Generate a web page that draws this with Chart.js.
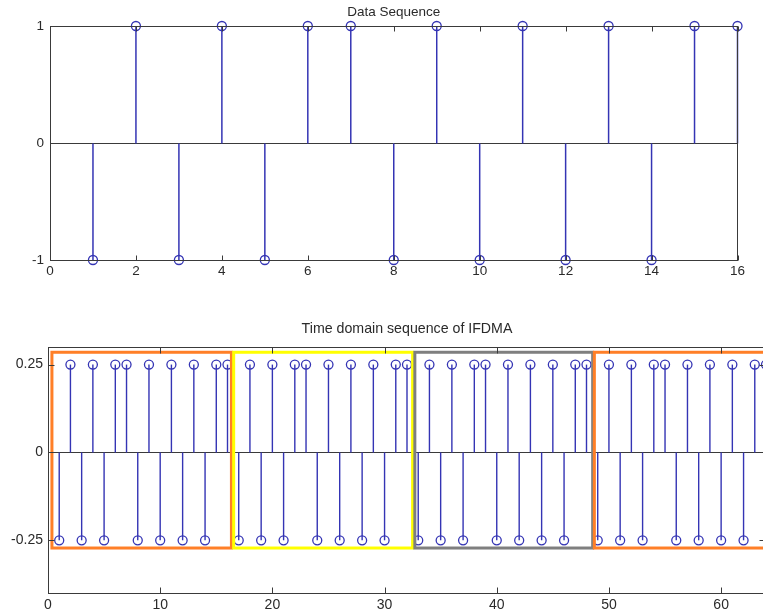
<!DOCTYPE html>
<html><head><meta charset="utf-8">
<script src="https://cdn.jsdelivr.net/npm/chart.js@4/dist/chart.umd.min.js"></script>
<style>
html,body{margin:0;padding:0;background:#fff;overflow:hidden;width:763px;height:616px;}
#c1{position:absolute;left:0;top:0;width:763px;height:300px;}
#c2{position:absolute;left:0;top:300px;width:766px;height:316px;}
</style></head><body>
<canvas id="c1" width="763" height="300"></canvas>
<canvas id="c2" width="766" height="316"></canvas>
<script>
// ---- Data Sequence (top) ----
const seqIndex  = [1,2,3,4,5,6,7,8,9,10,11,12,13,14,15,16];
const seqValues = [-1,1,-1,1,-1,1,1,-1,1,-1,1,-1,1,-1,1,1];
const seqXTicks = [0,2,4,6,8,10,12,14,16];
const seqYTicks = [-1,0,1];

// ---- Time domain sequence of IFDMA (bottom) ----
const ifdmaIndex = [1,2,3,4,5,6,7,8,9,10,11,12,13,14,15,16,
  17,18,19,20,21,22,23,24,25,26,27,28,29,30,31,32,
  33,34,35,36,37,38,39,40,41,42,43,44,45,46,47,48,
  49,50,51,52,53,54,55,56,57,58,59,60,61,62,63,64];
const ifdmaValues = [
  -0.25,0.25,-0.25,0.25,-0.25,0.25,0.25,-0.25,0.25,-0.25,0.25,-0.25,0.25,-0.25,0.25,0.25,
  -0.25,0.25,-0.25,0.25,-0.25,0.25,0.25,-0.25,0.25,-0.25,0.25,-0.25,0.25,-0.25,0.25,0.25,
  -0.25,0.25,-0.25,0.25,-0.25,0.25,0.25,-0.25,0.25,-0.25,0.25,-0.25,0.25,-0.25,0.25,0.25,
  -0.25,0.25,-0.25,0.25,-0.25,0.25,0.25,-0.25,0.25,-0.25,0.25,-0.25,0.25,-0.25,0.25,0.25];
const ifdmaXTicks = [0,10,20,30,40,50,60];
const ifdmaYTicks = [-0.25,0,0.25];

// highlight boxes (data units)
const boxStart  = [0.35, 16.55, 32.7, 48.7];
const boxEnd    = [16.35, 32.5, 48.55, 66];
const boxTop    = [0.285, 0.285, 0.285, 0.285];
const boxBottom = [-0.272, -0.272, -0.272, -0.272];
const boxColors = ['#ff7f27', '#ffff00', '#7f7f7f', '#ff7f27'];

const STEM = '#3434b4';
const FRAME = '#3a3a3a';
const TEXT = '#2a2a2a';
const FAM = '"Liberation Sans", Arial, sans-serif';

const matlabAxes = {
  id: 'matlabAxes',
  beforeDatasetsDraw(chart, args, opts) {
    const ctx = chart.ctx, ca = chart.chartArea;
    const ys = chart.scales.y;
    const y0 = Math.round(ys.getPixelForValue(0)) + 0.5;
    ctx.save();
    ctx.strokeStyle = FRAME; ctx.lineWidth = 1;
    ctx.beginPath(); ctx.moveTo(ca.left, y0); ctx.lineTo(ca.right, y0); ctx.stroke();
    ctx.strokeStyle = STEM; ctx.lineWidth = opts.stemWidth;
    chart.getDatasetMeta(0).data.forEach(pt => {
      ctx.beginPath(); ctx.moveTo(pt.x, y0); ctx.lineTo(pt.x, pt.y); ctx.stroke();
    });
    ctx.restore();
  },
  afterDatasetsDraw(chart, args, opts) {
    const ctx = chart.ctx, ca = chart.chartArea;
    const xs = chart.scales.x, ys = chart.scales.y;
    ctx.save();
    if (opts.boxes) {
      ctx.lineWidth = 3;
      for (let i = 0; i < boxStart.length; i++) {
        const l = xs.getPixelForValue(boxStart[i]);
        const r = xs.getPixelForValue(boxEnd[i]);
        const t = ys.getPixelForValue(boxTop[i]);
        const b = ys.getPixelForValue(boxBottom[i]);
        ctx.strokeStyle = boxColors[i];
        ctx.strokeRect(l, t, r - l, b - t);
      }
    }
    const L = Math.round(ca.left) + 0.5, R = Math.round(ca.right) - 0.5;
    const T = Math.round(ca.top) + 0.5, B = Math.round(ca.bottom) + 0.5;
    ctx.strokeStyle = FRAME; ctx.lineWidth = 1;
    ctx.strokeRect(L, T, R - L, B - T);
    const tl = opts.tickLen;
    ctx.beginPath();
    xs.ticks.forEach(t => {
      const x = Math.round(xs.getPixelForValue(t.value)) + 0.5;
      ctx.moveTo(x, B); ctx.lineTo(x, B - tl);
      ctx.moveTo(x, T); ctx.lineTo(x, T + tl);
    });
    ys.ticks.forEach(t => {
      const y = Math.round(ys.getPixelForValue(t.value)) + 0.5;
      ctx.moveTo(L, y); ctx.lineTo(L + tl, y);
      ctx.moveTo(R, y); ctx.lineTo(R - tl, y);
    });
    ctx.stroke();
    ctx.fillStyle = TEXT;
    ctx.font = opts.titleSize + 'px ' + FAM;
    ctx.textAlign = 'center'; ctx.textBaseline = 'middle';
    ctx.fillText(opts.title, (ca.left + ca.right) / 2, ca.top - opts.titleOffset);
    ctx.restore();
  }
};

function makeChart(id, xVals, yVals, xTicks, yTicks, xMin, xMax, yMin, yMax, cfg) {
  const font = { family: FAM, size: cfg.fontSize };
  return new Chart(document.getElementById(id), {
    type: 'scatter',
    data: {
      datasets: [{
        data: xVals.map((x, i) => ({ x: x, y: yVals[i] })),
        showLine: false,
        pointStyle: 'circle',
        pointRadius: cfg.radius,
        pointBorderWidth: 1.3,
        pointBorderColor: STEM,
        pointBackgroundColor: 'rgba(0,0,0,0)',
        pointHoverRadius: cfg.radius,
        clip: false
      }]
    },
    options: {
      responsive: false, maintainAspectRatio: false, animation: false,
      devicePixelRatio: 1,
      layout: { padding: cfg.padding, autoPadding: false },
      plugins: {
        legend: { display: false }, tooltip: { enabled: false }, title: { display: false },
        matlabAxes: {
          title: cfg.title, titleSize: cfg.titleSize, titleOffset: cfg.titleOffset,
          tickLen: cfg.tickLen, stemWidth: cfg.stemWidth, boxes: cfg.boxes
        }
      },
      scales: {
        x: {
          type: 'linear', min: xMin, max: xMax,
          grid: { display: false, drawTicks: false }, border: { display: false },
          ticks: { font: font, color: TEXT, padding: cfg.xPad, maxRotation: 0, autoSkip: false, includeBounds: false },
          afterBuildTicks: s => { s.ticks = xTicks.map(v => ({ value: v })); },
          afterFit: s => { s.height = cfg.xHeight; s.paddingLeft = 0; s.paddingRight = 0; }
        },
        y: {
          type: 'linear', min: yMin, max: yMax,
          grid: { display: false, drawTicks: false }, border: { display: false },
          ticks: { font: font, color: TEXT, padding: cfg.yPad, autoSkip: false, includeBounds: false,
                   callback: v => String(v) },
          afterBuildTicks: s => { s.ticks = yTicks.map(v => ({ value: v })); },
          afterFit: s => { s.width = cfg.yWidth; s.paddingTop = 0; s.paddingBottom = 0; }
        }
      }
    },
    plugins: [matlabAxes]
  });
}

makeChart('c1', seqIndex, seqValues, seqXTicks, seqYTicks, 0, 16, -1, 1, {
  fontSize: 13.5, titleSize: 13.5, title: 'Data Sequence', titleOffset: 13.5,
  radius: 4.5, stemWidth: 1.5, tickLen: 5, boxes: false,
  padding: { top: 26, right: 25.5, left: 0, bottom: 0 },
  xHeight: 40, yWidth: 50, xPad: 3, yPad: 6
});

makeChart('c2', ifdmaIndex, ifdmaValues, ifdmaXTicks, ifdmaYTicks, 0, 64, -0.4, 0.3, {
  fontSize: 14, titleSize: 14.2, title: 'Time domain sequence of IFDMA', titleOffset: 18,
  radius: 4.5, stemWidth: 1.4, tickLen: 6, boxes: true,
  padding: { top: 47, right: 0, left: 0, bottom: 0 },
  xHeight: 23, yWidth: 48, xPad: 4, yPad: 5
});
</script>
</body></html>
